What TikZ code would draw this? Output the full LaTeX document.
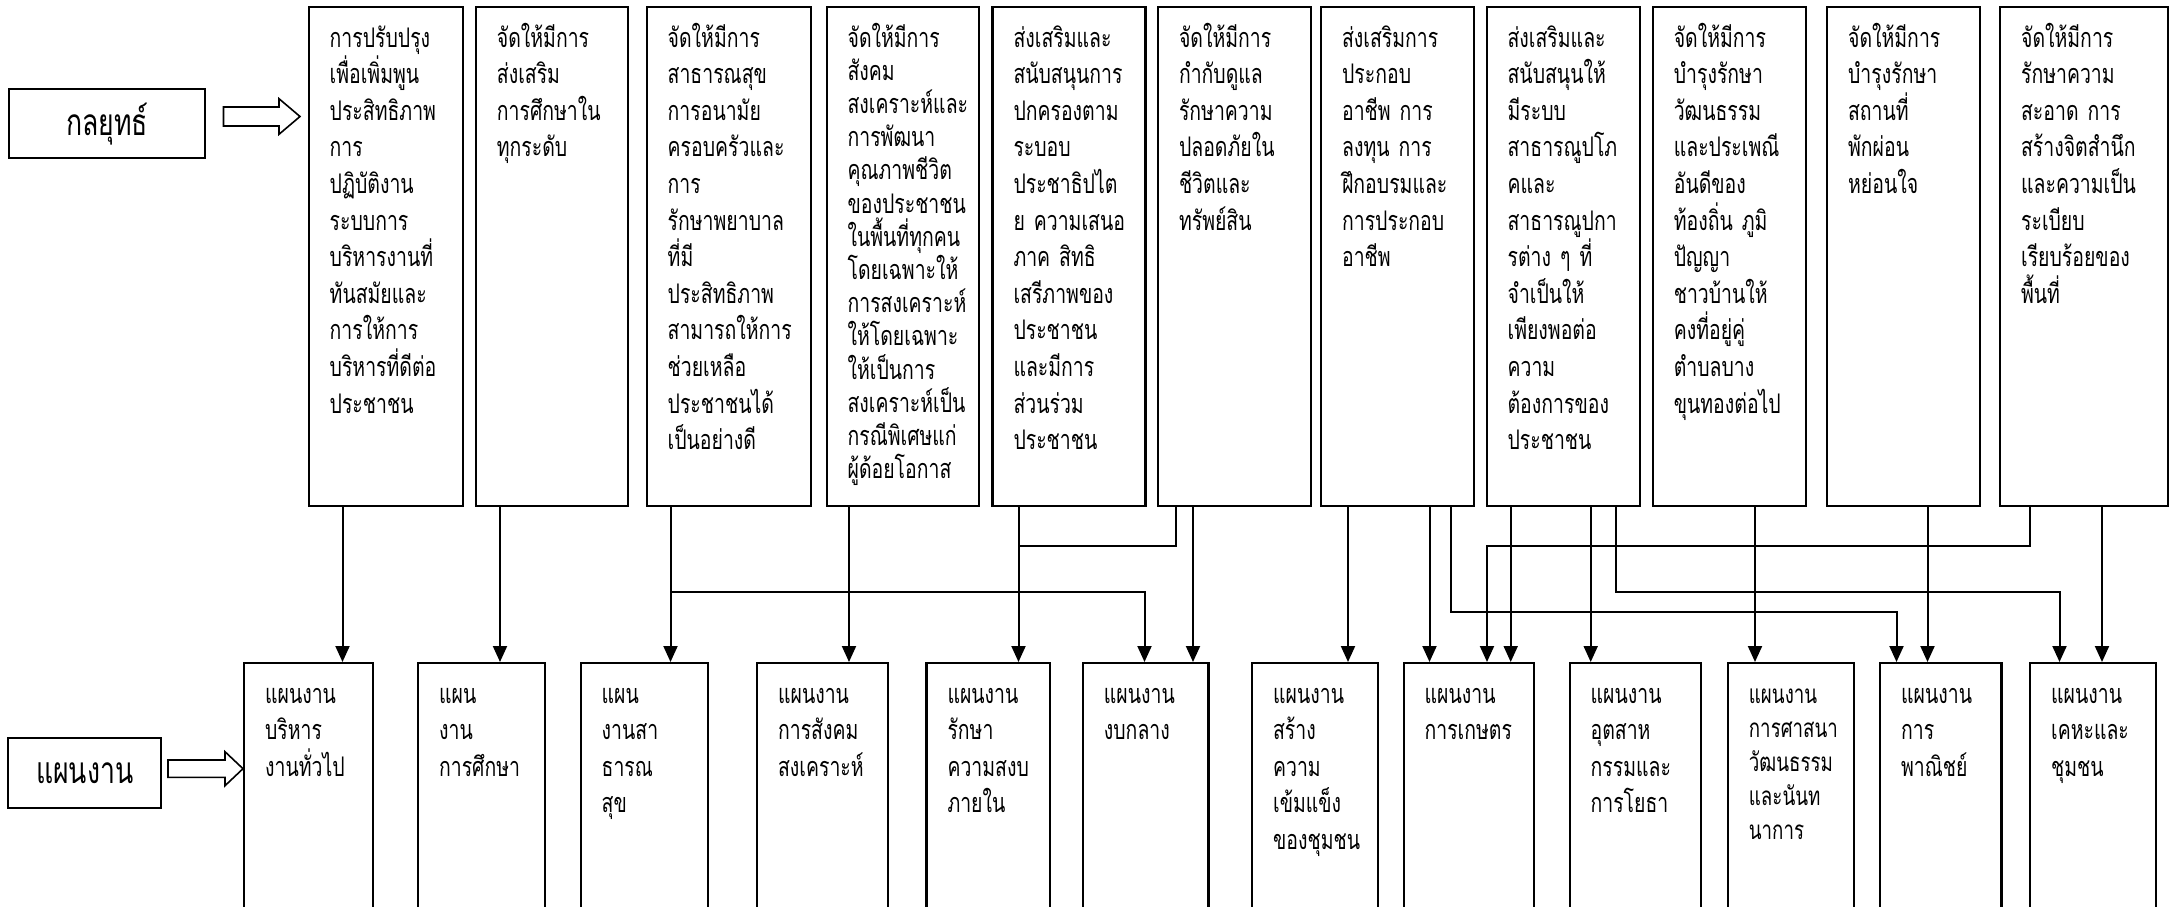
\documentclass[tikz,border=0pt]{standalone}
\usepackage{fontspec}
\usetikzlibrary{arrows.meta}
\newfontfamily\thaifont[Script=Thai,FakeStretch=0.72]{Loma}
\newcommand{\boxfont}{\thaifont\fontsize{13.5pt}{18.3pt}\selectfont}
\newcommand{\headfont}{\thaifont\fontsize{18.5pt}{22pt}\selectfont}

\begin{document}
\begin{tikzpicture}[x=0.5pt, y=-0.5pt,
    topbox/.style={draw, line width=1.1pt, anchor=north west, align=left,
        inner xsep=10.5pt, inner ysep=0pt, text width=#1,
        text height=20pt, text depth=229.5pt, font=\boxfont},
    planbox/.style={draw, line width=1.1pt, anchor=north west, align=left,
        inner xsep=10.5pt, inner ysep=0pt, text width=#1,
        text height=20pt, text depth=130pt, font=\boxfont},
    headbox/.style={draw, line width=1.1pt, anchor=north west, inner sep=0pt,
        font=\headfont},
    hollow/.style={draw, line width=0.8pt, line join=miter},
    flow/.style={line width=1pt, -{Triangle[length=8pt,width=7pt]}},
    link/.style={line width=1pt}]
    \useasboundingbox (0,0) rectangle (2169,906);

    % left headings
    \node[headbox, minimum width=98pt, minimum height=34.5pt] (goal) at (8,88) {กลยุทธ์};
    \node[headbox, minimum width=76.5pt, minimum height=35pt] (plan) at (7,737) {แผนงาน};
    \draw[hollow] (223.5,107) -- (279,107) -- (279,98.7) -- (300,116.5)
        -- (279,134.3) -- (279,126) -- (223.5,126) -- cycle;
    \draw[hollow] (168,760) -- (225,760) -- (225,751.7) -- (243,768.7)
        -- (225,785.7) -- (225,777.3) -- (168,777.3) -- cycle;

    % strategies
    \node[topbox=56pt] (s1) at (307.6,6) {การปรับปรุง\\เพื่อเพิ่มพูน\\ประสิทธิภาพ\\การ\\ปฏิบัติงาน\\ระบบการ\\บริหารงานที่\\ทันสมัยและ\\การให้การ\\บริหารที่ดีต่อ\\ประชาชน};
    \node[topbox=55.2pt] (s2) at (474.8,6) {จัดให้มีการ\\ส่งเสริม\\การศึกษาใน\\ทุกระดับ};
    \node[topbox=61pt] (s3) at (645.6,6) {จัดให้มีการ\\สาธารณสุข\\การอนามัย\\ครอบครัวและ\\การ\\รักษาพยาบาล\\ที่มี\\ประสิทธิภาพ\\สามารถให้การ\\ช่วยเหลือ\\ประชาชนได้\\เป็นอย่างดี};
    \node[topbox=55.2pt, font=\thaifont\fontsize{13.5pt}{16.6pt}\selectfont] (s4) at (825.5,6) {จัดให้มีการ\\สังคม\\สงเคราะห์และ\\การพัฒนา\\คุณภาพชีวิต\\ของประชาชน\\ในพื้นที่ทุกคน\\โดยเฉพาะให้\\การสงเคราะห์\\ให้โดยเฉพาะ\\ให้เป็นการ\\สงเคราะห์เป็น\\กรณีพิเศษแก่\\ผู้ด้อยโอกาส};
    \node[topbox=55.5pt] (s5) at (991.4,6) {ส่งเสริมและ\\สนับสนุนการ\\ปกครองตาม\\ระบอบ\\ประชาธิปไต\\ย~ความเสนอ\\ภาค~สิทธิ\\เสรีภาพของ\\ประชาชน\\และมีการ\\ส่วนร่วม\\ประชาชน};
    \node[topbox=55.5pt] (s6) at (1156.9,6) {จัดให้มีการ\\กำกับดูแล\\รักษาความ\\ปลอดภัยใน\\ชีวิตและ\\ทรัพย์สิน};
    \node[topbox=55.5pt] (s7) at (1320,6) {ส่งเสริมการ\\ประกอบ\\อาชีพ~การ\\ลงทุน~การ\\ฝึกอบรมและ\\การประกอบ\\อาชีพ};
    \node[topbox=55.5pt] (s8) at (1485.5,6) {ส่งเสริมและ\\สนับสนุนให้\\มีระบบ\\สาธารณูปโภ\\คและ\\สาธารณูปกา\\รต่าง~ๆ~ที่\\จำเป็นให้\\เพียงพอต่อ\\ความ\\ต้องการของ\\ประชาชน};
    \node[topbox=55.5pt] (s9) at (1651.7,6) {จัดให้มีการ\\บำรุงรักษา\\วัฒนธรรม\\และประเพณี\\อันดีของ\\ท้องถิ่น~ภูมิ\\ปัญญา\\ชาวบ้านให้\\คงที่อยู่คู่\\ตำบลบาง\\ขุนทองต่อไป};
    \node[topbox=55.5pt] (s10) at (1826,6) {จัดให้มีการ\\บำรุงรักษา\\สถานที่\\พักผ่อน\\หย่อนใจ};
    \node[topbox=63pt] (s11) at (1999,6) {จัดให้มีการ\\รักษาความ\\สะอาด~การ\\สร้างจิตสำนึก\\และความเป็น\\ระเบียบ\\เรียบร้อยของ\\พื้นที่};

    % plans
    \node[planbox=43.4pt] (p1) at (243,662) {แผนงาน\\บริหาร\\งานทั่วไป};
    \node[planbox=42.5pt] (p2) at (417,662) {แผน\\งาน\\การศึกษา};
    \node[planbox=42.7pt] (p3) at (579.6,662) {แผน\\งานสา\\ธารณ\\สุข};
    \node[planbox=44.5pt] (p4) at (756,662) {แผนงาน\\การสังคม\\สงเคราะห์};
    \node[planbox=40.7pt] (p5) at (925.4,662) {แผนงาน\\รักษา\\ความสงบ\\ภายใน};
    \node[planbox=41.8pt] (p6) at (1081.8,662) {แผนงาน\\งบกลาง};
    \node[planbox=42pt] (p7) at (1251,662) {แผนงาน\\สร้าง\\ความ\\เข้มแข็ง\\ของชุมชน};
    \node[planbox=44pt] (p8) at (1402.5,662) {แผนงาน\\การเกษตร};
    \node[planbox=44.5pt] (p9) at (1568.5,662) {แผนงาน\\อุตสาห\\กรรมและ\\การโยธา};
    \node[planbox=42pt, font=\thaifont\fontsize{13pt}{17pt}\selectfont] (p10) at (1726.8,662) {แผนงาน\\การศาสนา\\วัฒนธรรม\\และนันท\\นาการ};
    \node[planbox=39.7pt] (p11) at (1879,662) {แผนงาน\\การ\\พาณิชย์};
    \node[planbox=42pt] (p12) at (2029,662) {แผนงาน\\เคหะและ\\ชุมชน};

    % strategy -> plan
    \draw[flow] (s1.south -| 342.5,0) -- (p1.north -| 342.5,0);
    \draw[flow] (s2.south -| 500,0) -- (p2.north -| 500,0);
    \draw[flow] (s3.south -| 670.5,0) -- (p3.north -| 670.5,0);
    \draw[flow] (670.5,592.3) -| (p6.north -| 1144.5,0);
    \draw[flow] (s4.south -| 849,0) -- (p4.north -| 849,0);
    \draw[flow] (s5.south -| 1018.5,0) -- (p5.north -| 1018.5,0);
    \draw[link] (s6.south -| 1175.5,0) |- (1018.5,545.7);
    \draw[flow] (s6.south -| 1193,0) -- (p6.north -| 1193,0);
    \draw[flow] (s7.south -| 1348,0) -- (p7.north -| 1348,0);
    \draw[flow] (s7.south -| 1429.5,0) -- (p8.north -| 1429.5,0);
    \draw[flow] (s7.south -| 1450.8,0) |- (1896.5,612.3) -- (p11.north -| 1896.5,0);
    \draw[flow] (s11.south -| 2029.7,0) |- (1487,545.7) -- (p8.north -| 1487,0);
    \draw[flow] (s8.south -| 1510.7,0) -- (p8.north -| 1510.7,0);
    \draw[flow] (s8.south -| 1590.7,0) -- (p9.north -| 1590.7,0);
    \draw[flow] (s8.south -| 1615.5,0) |- (2059.5,592.3) -- (p12.north -| 2059.5,0);
    \draw[flow] (s9.south -| 1755,0) -- (p10.north -| 1755,0);
    \draw[flow] (s10.south -| 1927.5,0) -- (p11.north -| 1927.5,0);
    \draw[flow] (s11.south -| 2102,0) -- (p12.north -| 2102,0);
\end{tikzpicture}
\end{document}
